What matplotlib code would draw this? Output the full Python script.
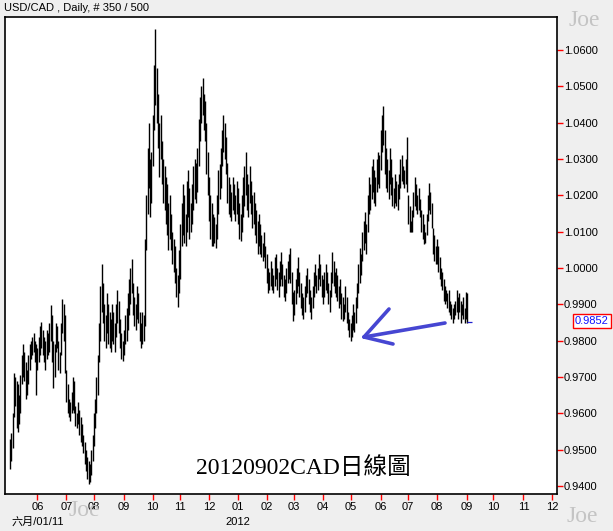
import numpy as np
import pandas as pd
import matplotlib
matplotlib.use("Agg")
import matplotlib.pyplot as plt
from matplotlib.lines import Line2D

# daily highs / lows, in pips (1 pip = 0.0001), one value per bar
highs = [
    # 2011-05
    9530, 9545, 9600, 9711, 9700, 9690, 9680, 9650, 9705, 9760, 9790, 9770, 9740, 9720, 9760, 9790, 9800, 9810, 9820, 9800, 9790,
    # 2011-06
    9780, 9810, 9840, 9851, 9830, 9810, 9800, 9830, 9820, 9850, 9898, 9870, 9800, 9790, 9850, 9840, 9800, 9770, 9850, 9915, 9900, 9870, 9720,
    # 2011-07
    9680, 9640, 9630, 9660, 9700, 9690, 9620, 9600, 9630, 9610, 9590, 9570, 9540, 9520, 9500, 9480, 9470, 9460, 9500, 9540,
    # 2011-08
    9600, 9640, 9700, 9760, 9850, 9950, 10010, 9960, 9900, 9870, 9930, 9900, 9880, 9860, 9900, 9880, 9850, 9900, 9940, 9910, 9860, 9820, 9800,
    # 2011-09
    9830, 9870, 9890, 9930, 9970, 10000, 10025, 9960, 9920, 9900, 9950, 9930, 9880, 9850, 9880, 9870, 10080, 10200, 10330, 10400, 10300, 10320,
    # 2011-10
    10420, 10560, 10657, 10550, 10480, 10400, 10420, 10350, 10300, 10280, 10250, 10230, 10180, 10200, 10150, 10100, 10080, 10060, 10000, 9980, 10050,
    # 2011-11
    10120, 10180, 10230, 10200, 10150, 10240, 10270, 10220, 10180, 10230, 10280, 10300, 10290, 10330, 10410, 10470, 10500, 10524, 10480, 10460, 10400, 10320,
    # 2011-12
    10250, 10200, 10180, 10150, 10140, 10120, 10200, 10270, 10285, 10330, 10380, 10420, 10400, 10360, 10290, 10250, 10230, 10210, 10250, 10230, 10200, 10240,
    # 2012-01
    10220, 10180, 10150, 10200, 10250, 10280, 10320, 10260, 10230, 10280, 10240, 10200, 10210, 10180, 10160, 10130, 10150, 10120, 10090, 10070, 10100, 10060,
    # 2012-02
    10040, 10000, 9990, 10020, 10000, 9980, 10030, 10040, 10000, 9990, 10020, 10045, 10010, 9980, 9970, 10000, 10020, 10040, 10055, 9990, 9935,
    # 2012-03
    9940, 9970, 10000, 10030, 9990, 9960, 9930, 9920, 9950, 9980, 10000, 9970, 9940, 9920, 9950, 9990, 10010, 9980, 10000, 10040, 10010, 9980,
    # 2012-04
    9970, 9990, 10010, 9990, 9960, 9940, 9990, 10045, 10020, 9990, 10000, 9980, 9950, 9970, 9930, 9920, 9900, 9950, 9920, 9880, 9860,
    # 2012-05
    9850, 9870, 9900, 9880, 9920, 9960, 10010, 10055, 10040, 10100, 10130, 10155, 10120, 10200, 10250, 10230, 10280, 10300, 10270, 10250, 10300, 10320, 10310,
    # 2012-06
    10380, 10420, 10445, 10380, 10330, 10300, 10270, 10330, 10300, 10250, 10220, 10260, 10240, 10230, 10260, 10300, 10310, 10280, 10270, 10300, 10360,
    # 2012-07
    10200, 10170, 10130, 10160, 10210, 10250, 10230, 10200, 10220, 10190, 10160, 10150, 10120, 10100, 10150, 10200, 10235, 10210, 10180, 10110, 10090, 10060,
    # 2012-08
    10080, 10060, 10030, 10000, 9990, 9970, 9950, 9940, 9930, 9940, 9910, 9900, 9890, 9900, 9910, 9940, 9920, 9930, 9910, 9900, 9920, 9890, 9935, 9930,
]
lows = [
    # 2011-05
    9447, 9470, 9505, 9590, 9620, 9560, 9550, 9570, 9600, 9680, 9700, 9690, 9640, 9650, 9680, 9720, 9750, 9760, 9770, 9740, 9650,
    # 2011-06
    9720, 9740, 9760, 9780, 9760, 9740, 9720, 9750, 9760, 9770, 9800, 9740, 9670, 9700, 9770, 9780, 9720, 9710, 9760, 9820, 9800, 9710, 9630,
    # 2011-07
    9600, 9590, 9580, 9600, 9610, 9600, 9565, 9560, 9570, 9540, 9520, 9510, 9490, 9460, 9440, 9420, 9406, 9410, 9430, 9470,
    # 2011-08
    9510, 9560, 9600, 9650, 9740, 9800, 9880, 9850, 9800, 9780, 9820, 9790, 9780, 9770, 9800, 9790, 9770, 9810, 9850, 9820, 9780, 9750, 9744,
    # 2011-09
    9760, 9790, 9800, 9830, 9870, 9900, 9930, 9870, 9840, 9830, 9860, 9850, 9800, 9780, 9790, 9800, 9840, 10050, 10150, 10220, 10140, 10180,
    # 2011-10
    10280, 10380, 10450, 10400, 10330, 10250, 10300, 10230, 10180, 10160, 10120, 10090, 10050, 10080, 10050, 10010, 9990, 9960, 9920, 9892, 9930,
    # 2011-11
    9970, 10060, 10090, 10070, 10060, 10100, 10140, 10080, 10100, 10120, 10160, 10190, 10180, 10210, 10280, 10350, 10400, 10420, 10380, 10350, 10260, 10200,
    # 2011-12
    10130, 10080, 10060, 10060, 10070, 10055, 10080, 10150, 10190, 10220, 10280, 10320, 10300, 10260, 10180, 10150, 10140, 10130, 10160, 10150, 10130, 10150,
    # 2012-01
    10120, 10080, 10075, 10100, 10140, 10170, 10200, 10160, 10140, 10180, 10150, 10110, 10120, 10090, 10070, 10040, 10060, 10040, 10030, 10020, 10030, 10000,
    # 2012-02
    9960, 9930, 9940, 9950, 9940, 9930, 9950, 9970, 9940, 9920, 9950, 9970, 9950, 9920, 9910, 9930, 9960, 9970, 9960, 9900, 9855,
    # 2012-03
    9870, 9900, 9930, 9950, 9920, 9890, 9870, 9860, 9880, 9920, 9930, 9900, 9880, 9860, 9890, 9920, 9950, 9930, 9940, 9970, 9950, 9920,
    # 2012-04
    9900, 9920, 9940, 9930, 9900, 9880, 9920, 9960, 9950, 9930, 9920, 9910, 9890, 9900, 9860, 9855, 9860, 9880, 9850, 9830, 9810,
    # 2012-05
    9800, 9810, 9830, 9825, 9850, 9890, 9930, 9960, 9980, 10020, 10050, 10070, 10040, 10100, 10150, 10160, 10190, 10210, 10180, 10170, 10210, 10230, 10220,
    # 2012-06
    10270, 10320, 10340, 10260, 10220, 10210, 10190, 10230, 10200, 10170, 10165, 10180, 10170, 10160, 10190, 10220, 10240, 10230, 10220, 10230, 10210,
    # 2012-07
    10120, 10100, 10100, 10100, 10140, 10170, 10160, 10150, 10160, 10140, 10100, 10080, 10065, 10070, 10090, 10130, 10160, 10150, 10110, 10040, 10020, 10010,
    # 2012-08
    10010, 9990, 9970, 9950, 9940, 9910, 9900, 9910, 9890, 9880, 9870, 9860, 9850, 9860, 9870, 9880, 9860, 9880, 9850, 9870, 9860, 9850, 9860, 9850,
]
last_close = 0.9852

y_ticks = [0.94, 0.95, 0.96, 0.97, 0.98, 0.99, 1.00, 1.01, 1.02, 1.03, 1.04, 1.05, 1.06]

hi = np.array(highs) / 10000.0
lo = np.array(lows) / 10000.0
n = len(hi)
idx = np.arange(n)

# business-day axis, extended to end of 2012
days = pd.bdate_range("2011-05-03", "2012-12-31")
month_start = [i for i in range(1, len(days)) if days[i].month != days[i - 1].month]
month_lbl = [days[i].strftime("%m") for i in month_start]

W, H = 613, 531
bg = "#efefef"
fig = plt.figure(figsize=(W / 100, H / 100), dpi=100, facecolor=bg)
ax = fig.add_axes([5 / W, 1 - 494 / H, 552 / W, 477 / H])
ax.set_facecolor("white")

def px(x, y):
    return x / W, 1 - y / H

ax.vlines(idx, lo, hi, color="black", linewidth=1.0)
ax.hlines(last_close, n - 1, n + 2.5, color="#2020d0", linewidth=0.9)

ax.set_xlim(-3.8, 417.6)
ax.set_ylim(0.9378, 1.0691)

for s in ax.spines.values():
    s.set_linewidth(1.2)
    s.set_color("black")

ax.yaxis.tick_right()
ax.set_yticks(y_ticks)
ax.set_yticklabels(["%.4f" % v for v in y_ticks])
ax.set_xticks(month_start)
ax.set_xticklabels(month_lbl)
ax.tick_params(axis="both", colors="red", labelcolor="black", length=4, width=1,
               labelsize=8, direction="out")
ax.tick_params(axis="y", pad=1)
ax.tick_params(axis="x", pad=2)
for t in ax.get_xticklabels() + ax.get_yticklabels():
    t.set_fontfamily("Liberation Sans")

fam = ["Liberation Sans", "Noto Sans CJK TC"]
fig.text(*px(4, 8), "USD/CAD , Daily, # 350 / 500", fontsize=8, family=fam, va="center", ha="left")
fig.text(*px(12, 522), "六月/01/11", fontsize=8, family=fam, va="center", ha="left")
fig.text(*px(238, 522), "2012", fontsize=8, family=fam, va="center", ha="center")

# last price box
fig.text(*px(592, 321), "0.9852", fontsize=8, family=fam, color="#1010ff", va="center", ha="center",
         bbox=dict(boxstyle="square,pad=0.15", fc="white", ec="red", lw=1))

# watermarks
for wx, wy in [(584, 20), (84, 510), (582, 516)]:
    fig.text(*px(wx, wy), "Joe", fontsize=17, family="Liberation Serif", color="#c4c4c4",
             va="center", ha="center", zorder=0)

fig.text(*px(303, 468), "20120902CAD日線圖", fontsize=17,
         family=["Liberation Serif", "Noto Sans CJK TC"], va="center", ha="center")

# hand-drawn arrow
blue = "#4646d2"
for (x0, y0), (x1, y1) in [((445, 323), (364, 337)), ((364, 337), (389, 309)), ((364, 337), (393, 344))]:
    a, b = px(x0, y0)
    c, d = px(x1, y1)
    fig.add_artist(Line2D([a, c], [b, d], color=blue, linewidth=2.6, solid_capstyle="round",
                          transform=fig.transFigure))

fig.savefig("out.png", dpi=100, facecolor=bg)
